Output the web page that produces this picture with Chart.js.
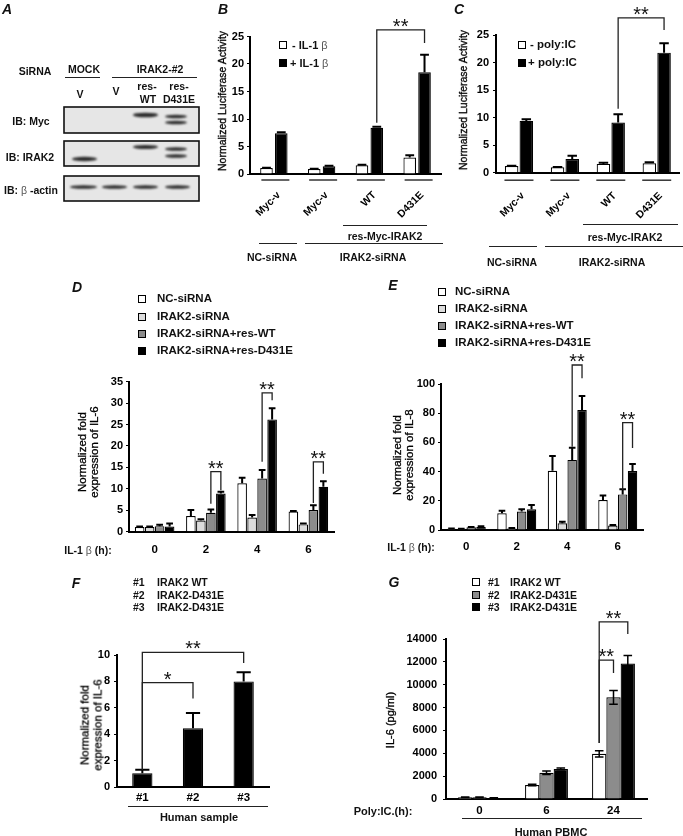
<!DOCTYPE html>
<html>
<head>
<meta charset="utf-8">
<script src="https://cdn.jsdelivr.net/npm/chart.js@4.4.1/dist/chart.umd.min.js"></script>
<style>
  html, body { margin: 0; padding: 0; background: #fff; }
  body { position: relative; width: 683px; height: 836px; overflow: hidden;
         font-family: "Liberation Sans", Arial, Helvetica, sans-serif; color: #111; }
  canvas.layer { position: absolute; left: 0; top: 0; }
  .t { position: absolute; white-space: nowrap; font-size: 11px; font-weight: bold; line-height: 1.15; }
  .n { font-weight: normal; color: #000; -webkit-text-stroke: 0.3px #000; }
  .pl { font-size: 14px; font-style: italic; font-weight: bold; }
  .beta { font-weight: normal; color: #555; }
  .ln { position: absolute; height: 0; border-top: 1.3px solid #222; }
  .sq { position: absolute; width: 8px; height: 8px; border: 1px solid #000; box-sizing: border-box; transform: translate(-50%, -50%); }
</style>
</head>
<body>
<script>
const FONT = '"Liberation Sans", Arial, Helvetica, sans-serif';

// ---- B: luciferase, IL-1b
const bLabels = ['Myc-v', 'Myc-v', 'WT', 'D431E'];
const bMinus = [1.1, 0.9, 1.6, 3.0];
const bMinusErr = [0.05, 0.05, 0.1, 0.4];
const bPlus = [7.4, 1.4, 8.4, 18.5];
const bPlusErr = [0.2, 0.1, 0.2, 3.2];

// ---- C: luciferase, poly:IC
const cLabels = ['Myc-v', 'Myc-v', 'WT', 'D431E'];
const cMinus = [1.2, 1.0, 1.6, 1.7];
const cMinusErr = [0.05, 0.05, 0.2, 0.2];
const cPlus = [9.4, 2.5, 9.1, 21.8];
const cPlusErr = [0.3, 0.6, 1.5, 1.7];

// ---- D / E: time course after IL-1b
const hours = ['0', '2', '4', '6'];
const seriesNames = ['NC-siRNA', 'IRAK2-siRNA', 'IRAK2-siRNA+res-WT', 'IRAK2-siRNA+res-D431E'];
const seriesColors = ['#ffffff', '#dcdcdc', '#8c8c8c', '#000000'];

const dNC = [1.1, 3.65, 11.3, 4.7];
const dNCErr = [0.1, 1.4, 1.3, 0.15];
const dSi = [1.1, 2.6, 3.3, 1.7];
const dSiErr = [0.1, 0.3, 0.6, 0.2];
const dWT = [1.3, 4.4, 12.4, 5.05];
const dWTErr = [0.3, 0.8, 2.0, 1.1];
const dD431E = [1.2, 8.9, 26.2, 10.5];
const dD431EErr = [0.7, 0.4, 2.6, 1.3];

const eNC = [0.8, 11.4, 40.6, 20.5];
const eNCErr = [0.2, 1.8, 10.1, 3.2];
const eSi = [0.8, 1.1, 4.6, 3.0];
const eSiErr = [0.1, 0.2, 1.1, 0.4];
const eWT = [1.8, 12.6, 48.0, 24.4];
const eWTErr = [0.3, 1.6, 8.4, 3.5];
const eD431E = [2.0, 14.2, 82.2, 40.4];
const eD431EErr = [0.5, 2.9, 9.6, 4.8];

// ---- F: human samples
const fLabels = ['#1', '#2', '#3'];
const fValues = [1.05, 4.45, 8.0];
const fErr = [0.25, 1.15, 0.7];
const sampleIds = ['#1', '#2', '#3'];
const sampleNames = ['IRAK2 WT', 'IRAK2-D431E', 'IRAK2-D431E'];

// ---- G: human PBMC, poly:IC
const gLabels = ['0', '6', '24'];
const gColors = ['#ffffff', '#8c8c8c', '#000000'];
const gWT = [150, 1230, 3950];
const gWTErr = [20, 60, 280];
const g2 = [150, 2300, 8900];
const g2Err = [20, 150, 600];
const g3 = [90, 2630, 11850];
const g3Err = [10, 80, 700];

// significance brackets: a/b = [dataset, category, leg bottom value], top = value
const bBrackets = [{ a: [1, 2, 9.3], b: [1, 3, 23.8], top: 26.2, text: '**' }];
const cBrackets = [{ a: [1, 2, 11.6], b: [1, 3, 25.9], top: 28.1, text: '**' }];
const dBrackets = [
  { a: [2, 1, 6.5], b: [3, 1, 9.7], top: 14.0, text: '**' },
  { a: [2, 2, 16.3], b: [3, 2, 30.7], top: 32.4, text: '**' },
  { a: [2, 3, 6.7], b: [3, 3, 13.5], top: 16.3, text: '**' }
];
const eBrackets = [
  { a: [2, 2, 57], b: [3, 2, 104], top: 113, text: '**' },
  { a: [2, 3, 27.4], b: [3, 3, 56.2], top: 73.5, text: '**' }
];
const fBrackets = [
  { a: [0, 0, 1.3], b: [0, 1, 6.7], top: 7.9, text: '*' },
  { a: [0, 0, 1.3], b: [0, 2, 9.4], top: 10.2, text: '**' }
];
const gBrackets = [
  { a: [0, 2, 4900], b: [1, 2, 11025], top: 12160, text: '**' },
  { a: [0, 2, 4900], b: [2, 2, 14440], top: 15490, text: '**' }
];

// ---------- plugins
const errorBars = {
  id: 'errorBars',
  afterDatasetsDraw(chart, args, opts) {
    const ctx = chart.ctx, y = chart.scales.y;
    chart.data.datasets.forEach((ds, i) => {
      if (!ds.err) return;
      chart.getDatasetMeta(i).data.forEach((bar, j) => {
        const v = ds.data[j], e = ds.err[j];
        if (!e) return;
        const yt = y.getPixelForValue(v + e);
        const yb = opts.both ? y.getPixelForValue(v - e) : bar.y;
        const cw = bar.width * (opts.cap || 0.35);
        ctx.save();
        ctx.strokeStyle = '#000';
        ctx.lineWidth = opts.width || 2;
        ctx.beginPath();
        ctx.moveTo(bar.x, yb); ctx.lineTo(bar.x, yt);
        ctx.moveTo(bar.x - cw, yt); ctx.lineTo(bar.x + cw, yt);
        if (opts.both) { ctx.moveTo(bar.x - cw, yb); ctx.lineTo(bar.x + cw, yb); }
        ctx.stroke();
        ctx.restore();
      });
    });
  }
};

const brackets = {
  id: 'brackets',
  afterDatasetsDraw(chart, args, opts) {
    const items = opts.items || [];
    const ctx = chart.ctx, y = chart.scales.y;
    const barX = (d, i) => chart.getDatasetMeta(d).data[i].x;
    ctx.save();
    ctx.strokeStyle = '#222';
    ctx.lineWidth = 1.3;
    ctx.fillStyle = '#111';
    ctx.font = '20px ' + FONT;
    ctx.textAlign = 'center';
    ctx.textBaseline = 'alphabetic';
    items.forEach(it => {
      const xa = barX(it.a[0], it.a[1]), xb = barX(it.b[0], it.b[1]);
      const yt = y.getPixelForValue(it.top);
      ctx.beginPath();
      ctx.moveTo(xa, y.getPixelForValue(it.a[2]));
      ctx.lineTo(xa, yt);
      ctx.lineTo(xb, yt);
      ctx.lineTo(xb, y.getPixelForValue(it.b[2]));
      ctx.stroke();
      ctx.fillText(it.text, (xa + xb) / 2, yt + 3);
    });
    ctx.restore();
  }
};

const groupLines = {
  id: 'groupLines',
  afterDraw(chart, args, opts) {
    if (!opts.half) return;
    const x = chart.scales.x, ctx = chart.ctx;
    const yy = chart.chartArea.bottom + opts.gap;
    ctx.save();
    ctx.strokeStyle = '#333';
    ctx.lineWidth = 1.5;
    chart.data.labels.forEach((l, i) => {
      const cx = x.getPixelForValue(i) + (opts.shift || 0);
      ctx.beginPath();
      ctx.moveTo(cx - opts.half, yy);
      ctx.lineTo(cx + opts.half, yy);
      ctx.stroke();
    });
    ctx.restore();
  }
};

function makeCanvas() {
  const cv = document.createElement('canvas');
  cv.width = 683; cv.height = 836; cv.className = 'layer';
  document.body.appendChild(cv);
  return cv;
}

function bars(data, err, color, cat, bar) {
  return { data: data, err: err, backgroundColor: color, borderColor: '#000', borderWidth: 1.2,
           categoryPercentage: cat, barPercentage: bar };
}

// box: plot area in page pixels; yW / xH: fixed axis sizes (labels are clipped to them)
function barChart(box, labels, datasets, ax, extra) {
  const xH = box.xH || 30;
  return new Chart(makeCanvas(), {
    type: 'bar',
    data: { labels: labels, datasets: datasets },
    options: {
      responsive: false,
      animation: false,
      events: [],
      layout: { padding: { left: box.left - box.yW, right: 683 - box.right, top: box.top, bottom: 836 - box.bottom - xH } },
      scales: {
        x: {
          offset: true,
          grid: { display: false, drawTicks: false },
          border: { color: '#000', width: 2 },
          ticks: { color: '#000', autoSkip: false, padding: ax.xPad, labelOffset: ax.xShift || 0,
                   minRotation: ax.rot || 0, maxRotation: ax.rot || 0,
                   font: { family: FONT, size: ax.xSize || 11.5, weight: 'bold' } },
          afterFit: s => { s.height = xH; }
        },
        y: {
          min: 0, max: ax.max,
          ticks: { color: '#000', stepSize: ax.step, padding: ax.yPad || 3, callback: v => String(v),
                   font: { family: FONT, size: 11, weight: 'bold' } },
          grid: { drawOnChartArea: false, drawTicks: true, tickLength: 3, color: '#000' },
          border: { color: '#000', width: 2 },
          afterFit: s => { s.width = box.yW; }
        }
      },
      plugins: {
        legend: { display: false },
        tooltip: { enabled: false },
        errorBars: extra.err || {},
        brackets: { items: extra.brackets || [] },
        groupLines: extra.group || {}
      }
    },
    plugins: [errorBars, brackets, groupLines]
  });
}

// ---------- HTML text helpers
function text(html, x, y, opt) {
  opt = opt || {};
  const d = document.createElement('div');
  d.className = 't ' + (opt.cls || '');
  d.innerHTML = html;
  d.style.left = x + 'px';
  d.style.top = y + 'px';
  if (opt.size) d.style.fontSize = opt.size + 'px';
  if (opt.lh) d.style.lineHeight = opt.lh + 'px';
  if (opt.align) d.style.textAlign = opt.align;
  const tx = opt.anchor === 'l' ? '0' : opt.anchor === 'r' ? '-100%' : '-50%';
  d.style.transform = 'translate(' + tx + ',-50%)' + (opt.rot ? ' rotate(' + opt.rot + 'deg)' : '');
  document.body.appendChild(d);
}
function hline(x1, x2, y) {
  const d = document.createElement('div');
  d.className = 'ln';
  d.style.left = x1 + 'px'; d.style.top = y + 'px'; d.style.width = (x2 - x1) + 'px';
  document.body.appendChild(d);
}
function square(x, y, color) {
  const d = document.createElement('div');
  d.className = 'sq';
  d.style.left = x + 'px'; d.style.top = y + 'px'; d.style.background = color;
  document.body.appendChild(d);
}
const BETA = '<span class="beta">&beta;</span>';

// ---------- A: western blot
function drawBlot() {
  const ctx = makeCanvas().getContext('2d');
  const boxes = [[64, 107, 135, 26], [64, 141, 135, 25], [64, 176, 135, 25]];
  boxes.forEach(b => {
    ctx.fillStyle = '#e6e6e6';
    ctx.fillRect(b[0], b[1], b[2], b[3]);
  });
  const bands = [
    [133, 158, 115, 3.6], [165, 187, 116.5, 2.6], [165, 187, 122.5, 2.6],
    [72, 97, 159, 3.4], [133, 158, 147, 3.0], [165, 187, 149, 2.6], [165, 187, 156, 2.6],
    [70, 97, 187, 2.6], [102, 127, 187, 2.4], [133, 158, 187, 2.6], [165, 190, 187, 2.6]
  ];
  ctx.save();
  ctx.filter = 'blur(0.8px)';
  ctx.fillStyle = '#2b2b2b';
  bands.forEach(b => {
    ctx.beginPath();
    ctx.ellipse((b[0] + b[1]) / 2, b[2], (b[1] - b[0]) / 2, b[3] / 2 + 0.5, 0, 0, Math.PI * 2);
    ctx.fill();
  });
  ctx.restore();
  ctx.strokeStyle = '#111';
  ctx.lineWidth = 1.6;
  boxes.forEach(b => ctx.strokeRect(b[0], b[1], b[2], b[3]));
}
drawBlot();

text('SiRNA', 35, 71, { size: 10.5 });
text('MOCK', 84, 69, { size: 10.5 });
text('IRAK2-#2', 160, 69, { size: 10.5 });
hline(65, 100, 77);
hline(112, 197, 77);
text('V', 80, 94, { size: 10.5 });
text('V', 116, 91, { size: 10.5 });
text('res-', 147, 86, { size: 10.5 });
text('WT', 148, 99, { size: 10.5 });
text('res-', 179, 86, { size: 10.5 });
text('D431E', 179, 99, { size: 10.5 });
text('IB: Myc', 31, 121, { size: 10.5 });
text('IB: IRAK2', 30, 157, { size: 10.5 });
text('IB: ' + BETA + ' -actin', 31, 190, { size: 10.5 });

// ---------- B
barChart({ left: 250, right: 441, top: 36.5, bottom: 174, yW: 22, xH: 70 }, bLabels, [
  bars(bMinus, bMinusErr, '#ffffff', 0.62, 0.85),
  bars(bPlus, bPlusErr, '#000000', 0.62, 0.85)
], { max: 25, step: 5, xPad: 15, xShift: 5, rot: 45, xSize: 10.5 },
  { brackets: bBrackets, group: { half: 14, gap: 6, shift: 1.5 } });

square(282.5, 45, '#fff'); square(282.5, 63, '#000');
text('- IL-1 ' + BETA, 292, 45, { anchor: 'l' });
text('+ IL-1 ' + BETA, 290, 63, { anchor: 'l' });
text('Normalized Luciferase Activity', 222, 101, { cls: 'n', size: 10.5, rot: -90 });
hline(343, 427, 225);
text('res-Myc-IRAK2', 385, 236, { size: 10.5 });
hline(259, 297, 243); hline(305, 443, 243);
text('NC-siRNA', 272, 257, { size: 10.5 });
text('IRAK2-siRNA', 373, 257, { size: 10.5 });

// ---------- C
barChart({ left: 496, right: 680, top: 35, bottom: 172.7, yW: 22, xH: 70 }, cLabels, [
  bars(cMinus, cMinusErr, '#ffffff', 0.64, 0.92),
  bars(cPlus, cPlusErr, '#000000', 0.64, 0.92)
], { max: 25, step: 5, xPad: 17, xShift: 4, rot: 45, xSize: 10.5, yPad: 4 },
  { brackets: cBrackets, group: { half: 14.5, gap: 7.5 } });

square(521.5, 44.7, '#fff'); square(521.5, 63, '#000');
text('- poly:IC', 530, 44.7, { anchor: 'l', size: 11.5 });
text('+ poly:IC', 528, 63, { anchor: 'l', size: 11.5 });
text('Normalized Luciferase Activity', 463, 100, { cls: 'n', size: 10.5, rot: -90 });
hline(583, 678, 224);
text('res-Myc-IRAK2', 625, 237, { size: 10.5 });
hline(489, 537, 246); hline(545, 683, 246);
text('NC-siRNA', 512, 262, { size: 10.5 });
text('IRAK2-siRNA', 612, 262, { size: 10.5 });

// ---------- D
barChart({ left: 129, right: 334, top: 381.7, bottom: 531.7, yW: 22 }, hours, [
  bars(dNC, dNCErr, seriesColors[0], 0.78, 0.96),
  bars(dSi, dSiErr, seriesColors[1], 0.78, 0.96),
  bars(dWT, dWTErr, seriesColors[2], 0.78, 0.96),
  bars(dD431E, dD431EErr, seriesColors[3], 0.78, 0.96)
], { max: 35, step: 5, xPad: 11 }, { brackets: dBrackets });

[299.3, 317.3, 334.3, 350.7].forEach((yy, i) => {
  square(142, yy, seriesColors[i]);
  text(seriesNames[i], 157, yy, { anchor: 'l', size: 11.5 });
});
text('Normalized fold<br>expression of IL-6', 88, 452, { cls: 'n', rot: -90, lh: 11.5, align: 'center', size: 11.5 });
text('IL-1 ' + BETA + ' (h):', 88, 550, { size: 10.5 });

// ---------- E
barChart({ left: 441, right: 643, top: 384, bottom: 530, yW: 24 }, hours, [
  bars(eNC, eNCErr, seriesColors[0], 0.78, 0.96),
  bars(eSi, eSiErr, seriesColors[1], 0.78, 0.96),
  bars(eWT, eWTErr, seriesColors[2], 0.78, 0.96),
  bars(eD431E, eD431EErr, seriesColors[3], 0.78, 0.96)
], { max: 100, step: 10, xPad: 10 }, { brackets: eBrackets });

[291.7, 309.3, 326, 342.7].forEach((yy, i) => {
  square(442, yy, seriesColors[i]);
  text(seriesNames[i], 455, yy, { anchor: 'l', size: 11.5 });
});
text('Normalized fold<br>expression of IL-8', 402.5, 455, { cls: 'n', rot: -90, lh: 11.5, align: 'center', size: 11.5 });
text('IL-1 ' + BETA + ' (h):', 411, 547, { size: 10.5 });

// ---------- F
barChart({ left: 117, right: 269, top: 655, bottom: 787, yW: 22 }, fLabels, [
  bars(fValues, fErr, '#000000', 0.4, 1.0)
], { max: 10, step: 2, xPad: 4, yPad: 4 }, { brackets: fBrackets });

[582, 595, 607].forEach((yy, i) => {
  text(sampleIds[i], 133, yy, { anchor: 'l', size: 10.5 });
  text(sampleNames[i], 157, yy, { anchor: 'l', size: 10.5 });
});
text('Normalized fold<br>expression of IL-6', 90.5, 725, { cls: 'n', rot: -90, lh: 12.5, align: 'center', size: 11.5 });
hline(128, 268, 806);
text('Human sample', 199, 817, { size: 11 });

// ---------- G
barChart({ left: 446, right: 647, top: 639, bottom: 799, yW: 44, xH: 25 }, gLabels, [
  bars(gWT, gWTErr, gColors[0], 0.64, 1.0),
  bars(g2, g2Err, gColors[1], 0.64, 1.0),
  bars(g3, g3Err, gColors[2], 0.64, 1.0)
], { max: 14000, step: 2000, xPad: 5, yPad: 6 },
  { brackets: gBrackets, err: { both: true, width: 1.5, cap: 0.3 } });

[582, 595, 607].forEach((yy, i) => {
  square(475.5, yy, gColors[i]);
  text(sampleIds[i], 488, yy, { anchor: 'l', size: 10.5 });
  text(sampleNames[i], 510, yy, { anchor: 'l', size: 10.5 });
});
text('IL-6 (pg/ml)', 390, 720, { cls: 'n', rot: -90, size: 11 });
text('Poly:IC.(h):', 383, 811, { size: 11 });
hline(462, 642, 818);
text('Human PBMC', 551, 832, { size: 11 });

// ---------- panel letters
[['A', 7, 9], ['B', 223, 9], ['C', 459, 9], ['D', 77, 287], ['E', 393, 285], ['F', 76, 583], ['G', 394, 582]]
  .forEach(p => text(p[0], p[1], p[2], { cls: 'pl' }));
</script>
</body>
</html>
